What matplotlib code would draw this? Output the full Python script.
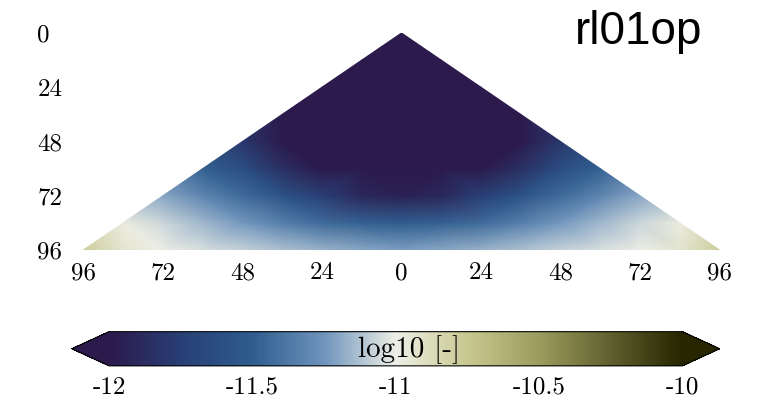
import numpy as np
import matplotlib.pyplot as plt
import matplotlib.tri as mtri
from matplotlib.colors import LinearSegmentedColormap

plt.rcParams['axes.unicode_minus'] = False
serif = 'cmr10'

# rows of the triangle: depth value and the field along x = -depth..depth (step 12)
row_depth = [0, 12, 24, 36, 48, 60, 72, 84, 96]
# half rows, |x| = 0, 12, 24, ... (field is symmetric about x = 0)
half_rows = [
    [-13.0],
    [-13.0, -13.0],
    [-13.0, -13.0, -12.7],
    [-13.0, -13.0, -12.8, -12.05],
    [-13.0, -12.9, -12.6, -12.1, -11.8],
    [-12.7, -12.6, -12.2, -11.85, -11.62, -11.48],
    [-11.95, -11.9, -11.75, -11.58, -11.43, -11.32, -11.2],
    [-11.5, -11.48, -11.43, -11.35, -11.24, -11.15, -11.07, -10.98],
    [-11.22, -11.2, -11.17, -11.13, -11.08, -11.04, -11.0, -10.93, -10.78],
]
step = 12

xticks = [-96, -72, -48, -24, 0, 24, 48, 72, 96]
yticks = [0, 24, 48, 72, 96]
cticks = [-12, -11.5, -11, -10.5, -10]

# broc-like diverging colormap
cmap = LinearSegmentedColormap.from_list('broc', [
    (0.00, '#2c1a4c'), (0.125, '#283f75'), (0.25, '#2e5d8e'),
    (0.375, '#6f94bd'), (0.5, '#eeefe6'), (0.625, '#c8c891'),
    (0.75, '#9c9c5e'), (0.875, '#60602f'), (1.00, '#262600')])
cmap.set_under('#2c1a4c')
cmap.set_over('#262600')

xs, ys, vs = [], [], []
for d, half in zip(row_depth, half_rows):
    full = half[:0:-1] + half
    n = len(half) - 1
    for i, v in enumerate(full):
        xs.append((i - n) * step)
        ys.append(d)
        vs.append(v)
tri = mtri.Triangulation(xs, ys)

fig = plt.figure(figsize=(7.64, 4.12), dpi=100)
ax = fig.add_axes([0.109, 0.393, 0.833, 0.527])
pc = ax.tripcolor(tri, vs, shading='gouraud', cmap=cmap, vmin=-12, vmax=-10)
ax.set_xlim(-96, 96)
ax.set_ylim(96, 0)
ax.set_xticks(xticks)
ax.set_xticklabels([str(abs(t)) for t in xticks], family=serif, va='baseline')
ax.set_yticks(yticks)
ax.set_yticklabels([str(t) for t in yticks], ha='left', va='center_baseline',
                   family=serif)
ax.tick_params(length=0, labelsize=18)
ax.tick_params(axis='x', pad=21)
ax.tick_params(axis='y', pad=33)
for s in ax.spines.values():
    s.set_visible(False)

fig.text(0.919, 0.893, 'rl01op', fontsize=33, family='Liberation Sans',
         ha='right', va='baseline')

cax = fig.add_axes([0.094, 0.112, 0.848, 0.083])
cb = fig.colorbar(pc, cax=cax, orientation='horizontal', extend='both',
                  extendfrac=0.065, ticks=cticks)
cb.ax.set_xticklabels([f'{t:g}' for t in cticks], family=serif, va='baseline')
cb.ax.tick_params(length=0, labelsize=18, pad=20)
cb.outline.set_linewidth(0.8)
cax.text(0.523, 0.47, 'log10 [-]', transform=cax.transAxes, family=serif,
         ha='center', va='center', fontsize=21)

fig.savefig('out.png', dpi=100)
